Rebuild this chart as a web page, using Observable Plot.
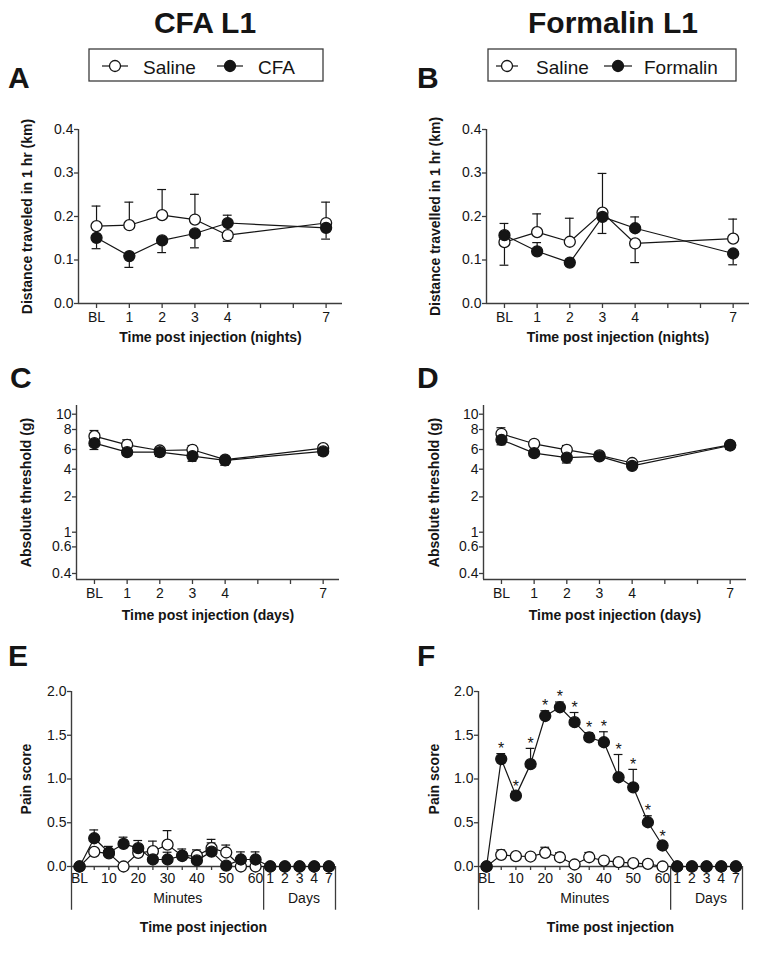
<!DOCTYPE html>
<html><head><meta charset="utf-8">
<script src="https://cdn.jsdelivr.net/npm/d3@7"></script>
<script src="https://cdn.jsdelivr.net/npm/@observablehq/plot@0.6"></script>
<style>
body{margin:0;background:#fff;}
#page{position:relative;width:762px;height:953px;overflow:hidden;background:#fff;font-family:"Liberation Sans",Arial,Helvetica,sans-serif;}
.panel{position:absolute;}
#overlay{position:absolute;left:0;top:0;}
</style></head>
<body><div id="page"></div>
<script>
// ---------------- DATA ----------------
const nightTimes = [0, 1, 2, 3, 4, 7];
const nightTickLabels = ["BL", "1", "2", "3", "4", "7"];

// A: CFA L1 distance (km)
const distSalineA    = [0.178, 0.180, 0.203, 0.193, 0.157, 0.185];
const distSalineAErr = [0.224, 0.233, 0.262, 0.251, 0.143, 0.233];
const distCfaA       = [0.151, 0.109, 0.145, 0.161, 0.185, 0.174];
const distCfaAErr    = [0.126, 0.083, 0.117, 0.128, 0.203, 0.148];

// B: Formalin L1 distance (km)
const distSalineB    = [0.141, 0.164, 0.142, 0.209, 0.138, 0.149];
const distSalineBErr = [0.088, 0.206, 0.196, 0.299, 0.094, 0.194];
const distFormB      = [0.157, 0.120, 0.094, 0.199, 0.173, 0.115];
const distFormBErr   = [0.184, 0.140, null, 0.161, 0.199, 0.089];

// C: CFA L1 absolute threshold (g)
const thrSalineC    = [7.33, 6.47, 5.90, 5.97, 4.97, 6.13];
const thrSalineCErr = [7.90, 6.97, 6.23, 6.40, null, 6.47];
const thrCfaC       = [6.63, 5.73, 5.73, 5.33, 4.90, 5.80];
const thrCfaCErr    = [6.00, 5.40, 5.30, 4.80, 4.40, 5.40];

// D: Formalin L1 absolute threshold (g)
const thrSalineD    = [7.57, 6.57, 5.97, 5.40, 4.63, 6.47];
const thrSalineDErr = [8.23, null, 6.40, 5.75, null, null];
const thrFormD      = [6.97, 5.63, 5.17, 5.30, 4.33, 6.40];
const thrFormDErr   = [6.47, 5.40, 4.63, 5.00, 4.10, 6.00];

// threshold axis: tick values and their spacing along the axis
const thrTickValues = [0.4, 0.6, 1, 2, 4, 6, 8, 10];
const thrTickText   = ["0.4", "0.6", "1", "2", "4", "6", "8", "10"];
const thrAxisUnits  = [0, 26.6, 41.3, 76.6, 104.3, 124, 144, 159.3];

// E/F: pain score time points (minutes then days)
const painTimeLabels = ["BL","5","10","15","20","25","30","35","40","45","50","55","60","1","2","3","4","7"];
const painMinuteCount = 13;

const painSalineE    = [0, 0.167, 0.150, 0, 0.156, 0.175, 0.250, 0.120, 0.125, 0.210, 0.160, 0, 0, 0, 0, 0, 0, 0];
const painSalineEErr = [null, null, 0.230, null, null, 0.290, 0.410, null, 0.190, 0.310, 0.245, null, null, null, null, null, null, null];
const painCfaE       = [0, 0.323, 0.160, 0.258, 0.210, 0.080, 0.080, 0.125, 0.070, 0.170, 0.010, 0.080, 0.080, 0, 0, 0, 0, 0];
const painCfaEErr    = [null, 0.418, null, 0.335, 0.297, null, 0.163, 0.200, null, 0.270, null, 0.167, 0.167, null, null, null, null, null];

const painSalineF    = [0, 0.133, 0.118, 0.114, 0.156, 0.106, 0.023, 0.106, 0.068, 0.050, 0.038, 0.030, 0, 0, 0, 0, 0, 0];
const painSalineFErr = [null, 0.190, null, null, 0.220, 0.156, null, 0.160, null, null, null, null, null, null, null, null, null, null];
const painFormF      = [0, 1.228, 0.810, 1.170, 1.720, 1.820, 1.650, 1.475, 1.420, 1.020, 0.905, 0.506, 0.240, 0, 0, 0, 0, 0];
const painFormFErr   = [null, 1.290, 0.860, 1.350, 1.780, 1.880, 1.760, 1.530, 1.540, 1.280, 1.110, 0.580, 0.280, null, null, null, null, null];
const painFormFSig   = [false, true, true, true, true, true, true, true, true, true, true, true, true, false, false, false, false, false];

// ---------------- DRAWING ----------------
const FONT = '"Liberation Sans", Arial, Helvetica, sans-serif';
const INK = "#151515";
const AXIS = "#3c3c3c";
const page = document.getElementById("page");

const thr = d3.scaleLinear().domain(thrTickValues).range(thrAxisUnits);
const painIdx = painTimeLabels.map((_, i) => i);

function rows(xs, ys, es, f = v => v) {
  return xs.map((x, i) => ({x, y: f(ys[i]), e: es[i] == null ? null : f(es[i])}));
}

function makePanel(c) {
  const marks = [];
  marks.push(Plot.ruleX([c.xDomain[0]], {stroke: AXIS, strokeWidth: 1.4}));
  marks.push(Plot.ruleY([c.yDomain[0]], {stroke: AXIS, strokeWidth: 1.4}));
  marks.push(Plot.axisY({ticks: c.yTicks, tickFormat: c.yTickFormat, tickSize: 4, tickPadding: 1,
    stroke: AXIS, strokeWidth: 1.3, fill: INK, fontSize: 14, label: null}));
  for (const ax of c.xAxes) {
    marks.push(Plot.axisX({ticks: ax.ticks, tickFormat: ax.format, tickSize: ax.size, tickPadding: ax.pad,
      stroke: AXIS, strokeWidth: 1.3, fill: INK, fontSize: 14, label: null}));
  }
  for (const m of (c.under || [])) marks.push(m);
  for (const s of c.series) marks.push(Plot.line(s.rows, {x: "x", y: "y", stroke: INK, strokeWidth: 1.2}));
  for (const s of c.series) {
    const er = s.rows.filter(d => d.e != null);
    marks.push(Plot.ruleX(er, {x: "x", y1: "y", y2: "e", stroke: INK, strokeWidth: 1.2}));
    marks.push(Plot.ruleY(er, {y: "e", x1: d => d.x - c.cap, x2: d => d.x + c.cap, stroke: INK, strokeWidth: 1.2}));
  }
  for (const s of c.series) marks.push(Plot.dot(s.rows, {x: "x", y: "y", r: 5.5, fill: s.filled ? INK : "white", stroke: INK, strokeWidth: 1.3}));
  for (const m of (c.over || [])) marks.push(m);
  marks.push(Plot.text([c.yLabel], {frameAnchor: "left", textAnchor: "middle", rotate: -90, dx: c.yLabelDx, fontWeight: "bold", fontSize: 14, fill: INK}));
  marks.push(Plot.text([c.xLabel], {frameAnchor: "bottom", textAnchor: "middle", dy: c.xLabelDy, fontWeight: "bold", fontSize: 14, fill: INK}));

  const svg = Plot.plot({
    width: c.width, height: c.height,
    marginLeft: c.ml, marginRight: c.mr, marginTop: c.mt, marginBottom: c.mb,
    x: {type: "linear", domain: c.xDomain},
    y: {type: "linear", domain: c.yDomain},
    style: {fontFamily: FONT, fontSize: "14px", color: INK, background: "none", overflow: "visible"},
    marks
  });
  const div = document.createElement("div");
  div.className = "panel";
  div.style.left = c.left + "px";
  div.style.top = c.top + "px";
  div.appendChild(svg);
  page.appendChild(div);
}

const nightAxes = [{ticks: d3.range(0, 8), format: d => { const i = nightTimes.indexOf(d); return i < 0 ? "" : nightTickLabels[i]; }, size: 5, pad: 4}];
const nightDomain = [-0.55, 7.5];
const distTicks = [0, 0.1, 0.2, 0.3, 0.4];
const f1 = d3.format(".1f");

// A
makePanel({left: 0, top: 115, width: 381, height: 250, ml: 78, mr: 39, mt: 14, mb: 62,
  xDomain: nightDomain, yDomain: [0, 0.4], yTicks: distTicks, yTickFormat: f1, xAxes: nightAxes, cap: 0.135,
  series: [{rows: rows(nightTimes, distSalineA, distSalineAErr), filled: false},
           {rows: rows(nightTimes, distCfaA, distCfaAErr), filled: true}],
  yLabel: "Distance traveled in 1 hr (km)", yLabelDx: -51,
  xLabel: "Time post injection (nights)", xLabelDy: 38});
// B
makePanel({left: 381, top: 115, width: 381, height: 250, ml: 105, mr: 13, mt: 14, mb: 62,
  xDomain: nightDomain, yDomain: [0, 0.4], yTicks: distTicks, yTickFormat: f1, xAxes: nightAxes, cap: 0.135,
  series: [{rows: rows(nightTimes, distSalineB, distSalineBErr), filled: false},
           {rows: rows(nightTimes, distFormB, distFormBErr), filled: true}],
  yLabel: "Distance travelled in 1 hr (km)", yLabelDx: -51,
  xLabel: "Time post injection (nights)", xLabelDy: 38});

const thrTicksU = thrTickValues.map(thr);
const thrFmt = u => { const i = thrTicksU.findIndex(t => Math.abs(t - u) < 1e-6); return i < 0 ? "" : thrTickText[i]; };
// C
makePanel({left: 0, top: 390, width: 381, height: 245, ml: 76, mr: 42, mt: 15, mb: 56,
  xDomain: nightDomain, yDomain: [-6, 168], yTicks: thrTicksU, yTickFormat: thrFmt, xAxes: nightAxes, cap: 0.135,
  series: [{rows: rows(nightTimes, thrSalineC, thrSalineCErr, thr), filled: false},
           {rows: rows(nightTimes, thrCfaC, thrCfaCErr, thr), filled: true}],
  yLabel: "Absolute threshold (g)", yLabelDx: -50,
  xLabel: "Time post injection (days)", xLabelDy: 40});
// D
makePanel({left: 381, top: 390, width: 381, height: 245, ml: 102, mr: 16, mt: 15, mb: 56,
  xDomain: nightDomain, yDomain: [-6, 168], yTicks: thrTicksU, yTickFormat: thrFmt, xAxes: nightAxes, cap: 0.135,
  series: [{rows: rows(nightTimes, thrSalineD, thrSalineDErr, thr), filled: false},
           {rows: rows(nightTimes, thrFormD, thrFormDErr, thr), filled: true}],
  yLabel: "Absolute threshold (g)", yLabelDx: -49,
  xLabel: "Time post injection (days)", xLabelDy: 40});

// E / F
const painDomain = [-0.55, 17.45];
const groupBounds = [painDomain[0], painMinuteCount - 0.45, painDomain[1]];
const groupLabels = [{label: "Minutes", at: 6.7}, {label: "Days", at: 15.3}];
const painAxes = [
  {ticks: painIdx.slice(0, painMinuteCount), format: i => (i % 2 === 0 ? painTimeLabels[i] : ""), size: 4, pad: 3},
  {ticks: painIdx.slice(painMinuteCount), format: i => painTimeLabels[i], size: 0, pad: 7}
];
const painUnder = [
  Plot.ruleX(groupBounds, {y1: 0, y2: -0.5, stroke: AXIS, strokeWidth: 1.3}),
  Plot.text(groupLabels, {x: "at", text: "label", frameAnchor: "bottom", textAnchor: "middle", dy: 36, fontSize: 14, fill: INK})
];
makePanel({left: 0, top: 675, width: 381, height: 278, ml: 71, mr: 46, mt: 16, mb: 87,
  xDomain: painDomain, yDomain: [0, 2], yTicks: [0, 0.5, 1, 1.5, 2], yTickFormat: f1, xAxes: painAxes, cap: 0.3,
  under: painUnder,
  series: [{rows: rows(painIdx, painSalineE, painSalineEErr), filled: false},
           {rows: rows(painIdx, painCfaE, painCfaEErr), filled: true}],
  yLabel: "Pain score", yLabelDx: -45,
  xLabel: "Time post injection", xLabelDy: 65});

const formRows = rows(painIdx, painFormF, painFormFErr);
const starRows = formRows.map((d, i) => ({x: d.x, y: d.e == null ? d.y : d.e})).filter((d, i) => painFormFSig[i]);
makePanel({left: 381, top: 675, width: 381, height: 278, ml: 97, mr: 20, mt: 16, mb: 87,
  xDomain: painDomain, yDomain: [0, 2], yTicks: [0, 0.5, 1, 1.5, 2], yTickFormat: f1, xAxes: painAxes, cap: 0.3,
  under: painUnder,
  series: [{rows: rows(painIdx, painSalineF, painSalineFErr), filled: false},
           {rows: formRows, filled: true}],
  over: [Plot.text(starRows, {x: "x", y: "y", text: () => "*", lineAnchor: "top", dy: -11, fontSize: 16, fill: INK})],
  yLabel: "Pain score", yLabelDx: -44,
  xLabel: "Time post injection", xLabelDy: 65});

// ---------------- TITLES, LETTERS, LEGENDS ----------------
const ov = d3.select(page).append("svg").attr("id", "overlay").attr("width", 762).attr("height", 953)
  .style("font-family", FONT).style("pointer-events", "none");
function T(x, y, txt, size, weight, anchor = "start") {
  ov.append("text").attr("x", x).attr("y", y).attr("font-size", size).attr("font-weight", weight)
    .attr("text-anchor", anchor).attr("fill", INK).text(txt);
}
T(205, 33, "CFA L1", 30, "bold", "middle");
T(613, 33, "Formalin L1", 30, "bold", "middle");
T(8, 88, "A", 30, "bold"); T(417, 88, "B", 30, "bold");
T(10, 388, "C", 30, "bold"); T(417, 388, "D", 30, "bold");
T(8, 666, "E", 30, "bold"); T(417, 666, "F", 30, "bold");

function legend(x, y, w, h, items) {
  ov.append("rect").attr("x", x).attr("y", y).attr("width", w).attr("height", h)
    .attr("fill", "none").attr("stroke", AXIS).attr("stroke-width", 1.3);
  for (const it of items) {
    const cy = y + 17;
    ov.append("line").attr("x1", it.l1).attr("x2", it.l2).attr("y1", cy).attr("y2", cy).attr("stroke", INK).attr("stroke-width", 1.2);
    ov.append("circle").attr("cx", (it.l1 + it.l2) / 2).attr("cy", cy).attr("r", 5.5)
      .attr("fill", it.filled ? INK : "white").attr("stroke", INK).attr("stroke-width", 1.3);
    T(it.tx, y + 24.5, it.label, 19, "normal");
  }
}
legend(89, 49, 234, 32, [{l1: 102, l2: 128, tx: 143, label: "Saline", filled: false},
                         {l1: 217, l2: 243, tx: 258, label: "CFA", filled: true}]);
legend(488, 49, 248, 32, [{l1: 496, l2: 518, tx: 536, label: "Saline", filled: false},
                          {l1: 604, l2: 632, tx: 644, label: "Formalin", filled: true}]);
</script>
</body></html>
